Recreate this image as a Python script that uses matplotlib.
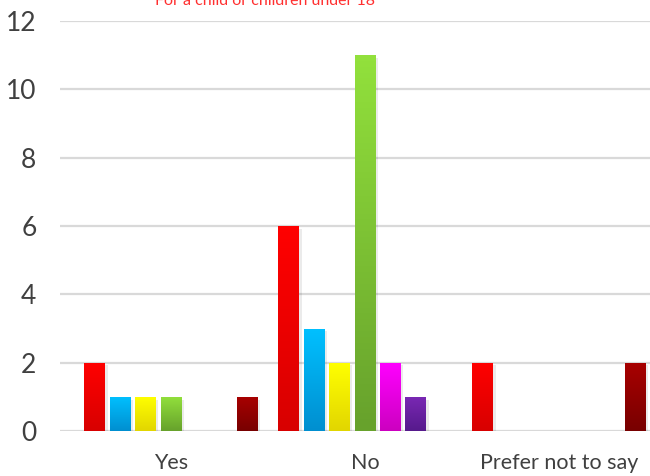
import numpy as np
import matplotlib.pyplot as plt
from matplotlib.colors import LinearSegmentedColormap

categories = ['Yes', 'No', 'Prefer not to say']
series_values = [
    [2, 6, 2],   # red
    [1, 3, 0],   # blue
    [1, 2, 0],   # yellow
    [1, 11, 0],  # green
    [0, 2, 0],   # magenta
    [0, 1, 0],   # purple
    [1, 0, 2],   # dark red
]
top_colors = ['#ff0000', '#00c0ff', '#ffff00', '#92e03c', '#ff00ff', '#7a28b4', '#a80000']
bottom_colors = ['#d80000', '#008fd0', '#e2d600', '#67a22c', '#cc00c0', '#561a8c', '#780000']
title = 'For a child or children under 18'

plt.rcParams['font.family'] = ['Lato', 'DejaVu Sans']

fig = plt.figure(figsize=(6.5, 4.76), dpi=100)
ax = fig.add_axes([60 / 650, 45 / 476, 590 / 650, 410 / 476])

x = np.arange(len(categories))
width = 0.108
pitch = 0.131
grad = np.linspace(1, 0, 64).reshape(-1, 1)

for i, vals in enumerate(series_values):
    pos = x + (i - 3) * pitch
    bars = ax.bar(pos, vals, width, color=top_colors[i], zorder=3)
    cmap = LinearSegmentedColormap.from_list('g%d' % i, [bottom_colors[i], top_colors[i]])
    for b in bars:
        h = b.get_height()
        if h <= 0:
            continue
        x0 = b.get_x()
        # soft shadow
        ax.bar(x0 + width / 2 + 0.012, h, width, bottom=-0.08, color='#000000',
               alpha=0.08, zorder=2, linewidth=0)
        im = ax.imshow(grad, cmap=cmap, extent=[x0, x0 + width, 0, h],
                       aspect='auto', zorder=4, vmin=0, vmax=1)
        im.set_clip_path(b)

ax.set_xlim(-111 / 194, 479 / 194)
ax.set_ylim(0, 12)
ax.set_yticks(range(0, 13, 2))
ax.set_xticks(x)
ax.set_xticklabels(categories)
ax.yaxis.grid(True, color='#d9d9d9', linewidth=1.6, zorder=0)
ax.set_axisbelow(True)
for s in ax.spines.values():
    s.set_visible(False)
ax.tick_params(axis='y', length=0, labelsize=19, pad=17, labelcolor='#404040')
ax.tick_params(axis='x', length=0, labelsize=15.5, pad=16, labelcolor='#404040')

fig.text(265 / 650, 1 - 5 / 476, title, color='#ff3030', fontsize=11.5,
         ha='center', va='baseline')

fig.savefig('out.png', dpi=100)
